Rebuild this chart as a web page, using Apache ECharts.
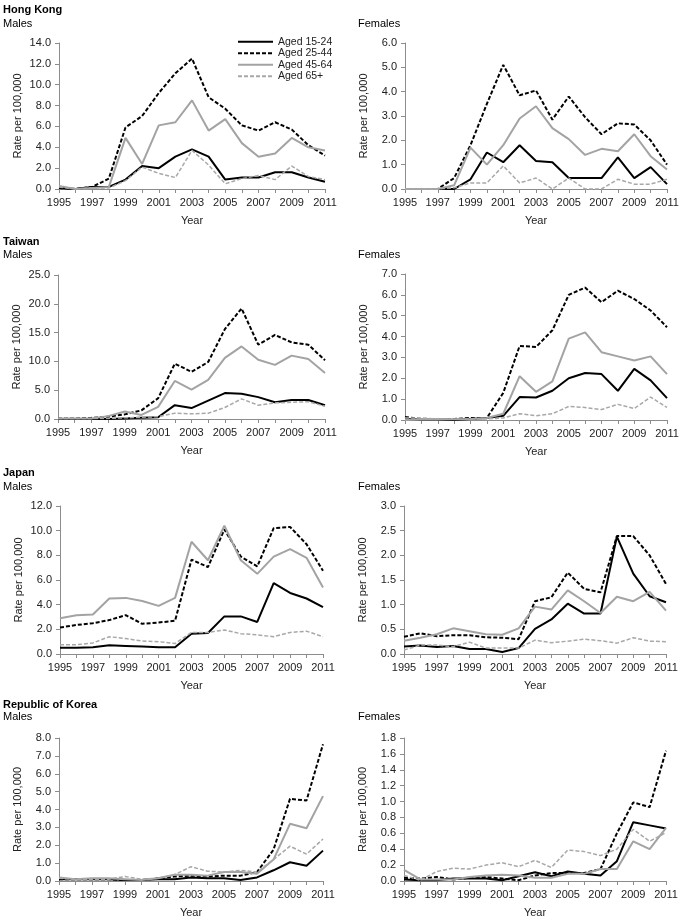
<!DOCTYPE html>
<html><head><meta charset="utf-8">
<script src="https://cdn.jsdelivr.net/npm/echarts@6/dist/echarts.min.js"></script>
<style>html,body{margin:0;padding:0;background:#fff}#c{width:682px;height:919px}</style>
</head><body><div id="c"></div>
<script>
const years = ['1995','1996','1997','1998','1999','2000','2001','2002','2003','2004','2005','2006','2007','2008','2009','2010','2011'];
const seriesNames = ['Aged 15-24','Aged 25-44','Aged 45-64','Aged 65+'];

// Hong Kong, Males
const hkM_15_24 = [0.1,0,0.2,0.2,0.9,2.2,2.0,3.1,3.8,3.1,0.9,1.1,1.1,1.6,1.6,1.1,0.7];
const hkM_25_44 = [0.1,0,0.2,1.0,5.9,7.0,9.2,11.1,12.5,8.8,7.7,6.1,5.6,6.4,5.7,4.2,3.2];
const hkM_45_64 = [0.3,0,0.1,0.2,4.9,2.4,6.1,6.4,8.5,5.6,6.7,4.4,3.1,3.4,4.9,4.0,3.7];
const hkM_65 = [0.2,0,0.1,0.1,0.8,2.1,1.5,1.1,3.7,2.3,0.5,1.0,1.3,0.9,2.2,1.2,0.9];
// Hong Kong, Females
const hkF_15_24 = [0,0,0,0,0.4,1.5,1.1,1.8,1.15,1.1,0.45,0.45,0.45,1.3,0.45,0.9,0.2];
const hkF_25_44 = [0,0,0,0.45,1.8,3.5,5.1,3.85,4.05,2.85,3.8,2.95,2.25,2.7,2.65,2.0,1.0];
const hkF_45_64 = [0,0,0,0.15,1.7,1.0,1.8,2.9,3.4,2.5,2.05,1.4,1.65,1.55,2.25,1.35,0.8];
const hkF_65 = [0,0,0,0.05,0.25,0.25,0.95,0.25,0.45,0,0.45,0,0,0.4,0.2,0.2,0.4];
// Taiwan, Males
const twM_15_24 = [0,0,0,0,0.1,0.2,0.3,2.4,1.9,3.2,4.5,4.4,3.8,2.9,3.3,3.3,2.4];
const twM_25_44 = [0.1,0.1,0.2,0.4,0.8,1.5,3.6,9.6,8.2,9.9,15.6,19.2,12.9,14.6,13.3,12.9,10.2];
const twM_45_64 = [0.1,0.1,0.1,0.5,1.3,0.7,2.1,6.6,5.1,6.8,10.6,12.6,10.3,9.4,11.0,10.4,8.0];
const twM_65 = [0.1,0.1,0.1,0.1,0.2,0.3,0.4,1.0,0.9,1.0,2.0,3.5,2.4,2.8,2.9,3.0,2.2];
// Taiwan, Females
const twF_15_24 = [0.05,0.03,0.03,0,0.05,0.1,0.2,1.1,1.08,1.4,2.0,2.25,2.2,1.4,2.45,1.9,1.05];
const twF_25_44 = [0.15,0.05,0.05,0.05,0.1,0.1,1.3,3.55,3.5,4.3,6.0,6.35,5.65,6.2,5.8,5.25,4.45];
const twF_45_64 = [0,0.05,0.05,0.03,0.05,0.1,0.3,2.1,1.35,1.85,3.9,4.2,3.25,3.05,2.85,3.05,2.2];
const twF_65 = [0.1,0.1,0.05,0.03,0.05,0.05,0.1,0.3,0.2,0.3,0.65,0.6,0.5,0.75,0.55,1.1,0.6];
// Japan, Males
const jpM_15_24 = [0.5,0.5,0.55,0.7,0.65,0.6,0.55,0.55,1.65,1.7,3.05,3.05,2.6,5.75,4.95,4.5,3.8];
const jpM_25_44 = [2.15,2.35,2.5,2.75,3.15,2.45,2.55,2.7,7.65,7.05,10.1,7.9,7.1,10.2,10.3,8.9,6.75];
const jpM_45_64 = [2.9,3.15,3.2,4.5,4.55,4.3,3.9,4.55,9.1,7.6,10.4,7.6,6.5,7.9,8.5,7.8,5.4];
const jpM_65 = [0.75,0.75,0.9,1.4,1.25,1.05,1.0,0.85,1.75,1.75,1.95,1.65,1.55,1.4,1.75,1.85,1.4];
// Japan, Females
const jpF_15_24 = [0.15,0.17,0.14,0.16,0.1,0.1,0.04,0.12,0.51,0.7,1.02,0.82,0.82,2.38,1.63,1.17,1.05];
const jpF_25_44 = [0.35,0.42,0.36,0.38,0.38,0.34,0.33,0.3,1.07,1.15,1.65,1.32,1.25,2.39,2.39,2.0,1.42];
const jpF_45_64 = [0.27,0.33,0.4,0.52,0.46,0.4,0.39,0.52,0.96,0.9,1.29,1.07,0.83,1.16,1.07,1.26,0.88];
const jpF_65 = [0.08,0.18,0.18,0.15,0.24,0.12,0.12,0.12,0.28,0.23,0.26,0.3,0.27,0.22,0.33,0.26,0.25];
// Republic of Korea, Males
const krM_15_24 = [0.1,0.1,0.1,0.1,0.05,0.05,0.1,0.1,0.2,0.15,0.15,0.05,0.2,0.6,1.05,0.85,1.7];
const krM_25_44 = [0.1,0.1,0.1,0.1,0.05,0.05,0.15,0.25,0.3,0.25,0.3,0.3,0.5,1.75,4.6,4.5,7.65];
const krM_45_64 = [0.2,0.1,0.15,0.15,0.1,0.05,0.15,0.35,0.35,0.3,0.5,0.5,0.4,1.2,3.2,2.95,4.75];
const krM_65 = [0.15,0.1,0.1,0.1,0.25,0.1,0.15,0.35,0.8,0.55,0.5,0.6,0.5,1.2,1.95,1.5,2.35];
// Republic of Korea, Females
const krF_15_24 = [0.02,0.01,0.01,0.03,0.03,0.03,0.01,0.06,0.11,0.06,0.12,0.09,0.07,0.25,0.74,0.7,0.66];
const krF_25_44 = [0.04,0.03,0.05,0.02,0.04,0.05,0.03,0.01,0.07,0.1,0.1,0.1,0.15,0.6,0.99,0.93,1.64];
const krF_45_64 = [0.14,0.02,0.02,0.02,0.05,0.07,0.08,0.07,0.04,0.04,0.09,0.09,0.15,0.15,0.5,0.4,0.67];
const krF_65 = [0.07,0.01,0.12,0.16,0.15,0.2,0.23,0.18,0.26,0.17,0.39,0.37,0.32,0.4,0.65,0.5,0.61];

// axis maxima / intervals
const yMax = [14, 6, 25, 7, 12, 3, 8, 1.8];
const yStep = [2, 1, 5, 1, 2, 0.5, 1, 0.2];
const countryTitles = ['Hong Kong','Taiwan','Japan','Republic of Korea'];
const sexTitles = ['Males','Females'];

const panelData = [
  [hkM_15_24,hkM_25_44,hkM_45_64,hkM_65],
  [hkF_15_24,hkF_25_44,hkF_45_64,hkF_65],
  [twM_15_24,twM_25_44,twM_45_64,twM_65],
  [twF_15_24,twF_25_44,twF_45_64,twF_65],
  [jpM_15_24,jpM_25_44,jpM_45_64,jpM_65],
  [jpF_15_24,jpF_25_44,jpF_45_64,jpF_65],
  [krM_15_24,krM_25_44,krM_45_64,krM_65],
  [krF_15_24,krF_25_44,krF_45_64,krF_65]
];

// layout
const gridBoxes = [
  {left:59, top:43, width:266, height:146},
  {left:405, top:43, width:262, height:146},
  {left:58, top:275, width:267, height:144},
  {left:405, top:274, width:262, height:146},
  {left:60, top:506, width:263, height:148},
  {left:404, top:506, width:262, height:148},
  {left:59, top:738, width:264, height:147},
  {left:404, top:738, width:262, height:147}
];
const titleY = [10, 242, 473, 705];
const subY = [24, 255, 487, 717];

const FONT = 'Liberation Sans, Arial, sans-serif';
const FS = 11;
const styles = [
  {color:'#000000', width:2, type:'solid'},
  {color:'#000000', width:2, type:[4,2]},
  {color:'#a3a3a3', width:2, type:'solid'},
  {color:'#a8a8a8', width:1.5, type:[4,2]}
];

const grid=[], xAxis=[], yAxis=[], series=[], graphic=[];
gridBoxes.forEach((g,i)=>{
  grid.push(Object.assign({containLabel:false}, g));
  xAxis.push({
    type:'category', gridIndex:i, data:years, boundaryGap:false,
    name:'Year', nameLocation:'middle', nameGap:26,
    nameTextStyle:{fontFamily:FONT, fontSize:FS, color:'#222'},
    axisLine:{lineStyle:{color:'#8c8c8c', width:1}},
    axisTick:{show:true, interval:0, length:4, lineStyle:{color:'#8c8c8c'}},
    axisLabel:{interval:1, fontFamily:FONT, fontSize:FS, color:'#222', margin:8},
    splitLine:{show:false}
  });
  yAxis.push({
    type:'value', gridIndex:i, min:0, max:yMax[i], interval:yStep[i],
    name:'Rate per 100,000', nameLocation:'middle', nameRotate:90, nameGap:36,
    nameTextStyle:{fontFamily:FONT, fontSize:FS, color:'#222'},
    axisLine:{show:true, lineStyle:{color:'#8c8c8c', width:1}},
    axisTick:{show:true, length:4, lineStyle:{color:'#8c8c8c'}},
    axisLabel:{fontFamily:FONT, fontSize:FS, color:'#222', margin:8, formatter:v=>v.toFixed(1)},
    splitLine:{show:false}
  });
  panelData[i].forEach((arr,k)=>{
    series.push({
      type:'line', name:seriesNames[k], xAxisIndex:i, yAxisIndex:i, data:arr,
      symbol:'none', silent:true, animation:false,
      lineStyle:{color:styles[k].color, width:styles[k].width, type:styles[k].type},
      itemStyle:{color:styles[k].color}
    });
  });
});
countryTitles.forEach((t,r)=>{
  graphic.push({type:'text', left:3, top:titleY[r]-6, style:{text:t, font:'bold 11px '+FONT, fill:'#000'}});
  graphic.push({type:'text', left:3, top:subY[r]-6, style:{text:sexTitles[0], font:'11px '+FONT, fill:'#000'}});
  graphic.push({type:'text', left:358, top:subY[r]-6, style:{text:sexTitles[1], font:'11px '+FONT, fill:'#000'}});
});

const chart = echarts.init(document.getElementById('c'), null, {renderer:'canvas'});
chart.setOption({
  animation:false,
  backgroundColor:'#fff',
  grid, xAxis, yAxis, series, graphic,
  legend:{
    data:seriesNames, orient:'vertical', left:237, top:36, padding:0,
    itemWidth:35, itemHeight:11.5, itemGap:0,
    itemStyle:{opacity:0},
    textStyle:{fontFamily:FONT, fontSize:10.5, color:'#222', lineHeight:11.5},
    selectedMode:false
  }
});
</script></body></html>
